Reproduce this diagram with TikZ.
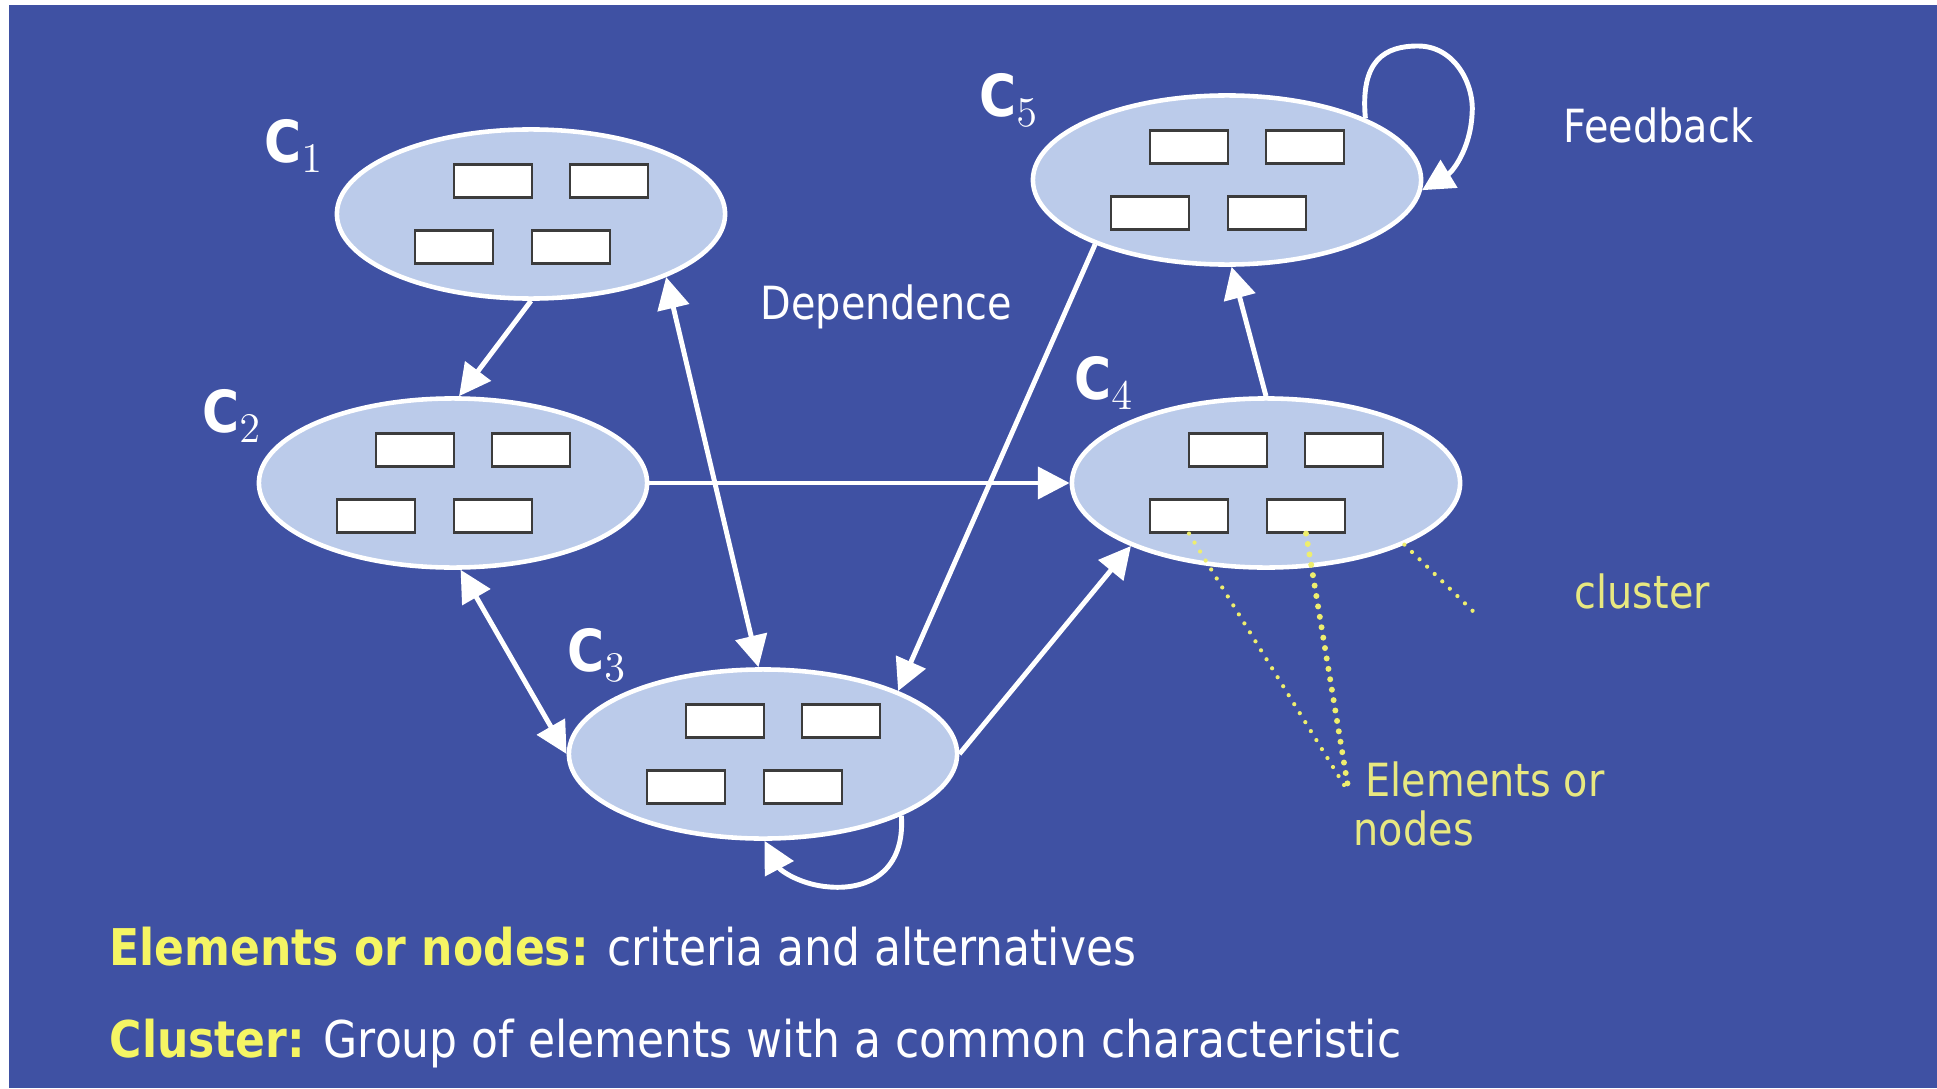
\documentclass[tikz,border=0pt]{standalone}
\usepackage{fontspec}
\newfontfamily\tahfont{DejaVu Sans}[FakeStretch=0.87]
\usetikzlibrary{shapes.geometric,arrows.meta}

\definecolor{slideblue}{RGB}{63,81,163}
\definecolor{clusterfill}{RGB}{187,203,234}
\definecolor{noteyellow}{RGB}{232,232,128}
\definecolor{legendyellow}{RGB}{245,245,100}
\definecolor{dotyellow}{RGB}{238,238,110}
\definecolor{elemgray}{RGB}{60,60,60}

\tikzset{
  >={Triangle[length=9pt,width=9pt]},
  cluster/.style={ellipse, draw=white, line width=1.3pt, fill=clusterfill,
    minimum width=3.88cm, minimum height=1.69cm, inner sep=0pt},
  elem/.style={rectangle, draw=elemgray, line width=0.6pt, fill=white,
    minimum width=0.78cm, minimum height=0.33cm, inner sep=0pt},
  clabel/.style={text=white, font=\tahfont\bfseries\fontsize{16.5}{19}\selectfont, inner sep=0pt},
  note/.style={font=\tahfont\fontsize{13}{14}\selectfont, inner sep=0pt},
  legend/.style={text=white, font=\tahfont\fontsize{14.4}{17}\selectfont, inner sep=0pt, anchor=base west},
  link/.style={draw=white, line width=1.4pt, ->},
  twoway/.style={link, <->},
  pointer/.style={draw=dotyellow, line width=1.2pt, line cap=round, dash pattern=on 0pt off 3pt}
}

\begin{document}
\begin{tikzpicture}[x=0.01cm, y=-0.01cm]
  % White page with the blue slide on it
  \useasboundingbox (0,0) rectangle (1937,1088);
  \fill[white] (0,0) rectangle (1937,1088);
  \fill[slideblue] (9,5) rectangle (1937,1088);

  % Clusters, each with four elements and its name
  \foreach \n/\x/\y/\lx/\ly in {1/531/214/294/146, 2/453/483/232/416, 3/763/754/597/655, 4/1266/483/1104/383, 5/1227/180/1009/100} {
    \node[cluster] (c\n) at (\x,\y) {};
    \node[elem] (e\n1) at (\x-38,\y-33) {};
    \node[elem] (e\n2) at (\x+78,\y-33) {};
    \node[elem] (e\n3) at (\x-77,\y+33) {};
    \node[elem] (e\n4) at (\x+40,\y+33) {};
    \node[clabel] (l\n) at (\lx,\ly) {C$_{\n}$};
  }

  % Dependence between clusters
  \draw[link] (c1.south) -- (c2.86);
  \draw[twoway] (c1.-25) -- (c3.93);
  \draw[link] (c2.east) -- (c4.west);
  \draw[twoway] (c2.-85) -- (c3.west);
  \draw[link] (c5.-154) -- (c3.25);
  \draw[link] (c3.east) -- (c4.-155);
  \draw[link] (c4.north) -- (c5.-87);

  % Feedback loops
  \draw[link] (c5.24) .. controls (1360,60) and (1385,46) .. (1418,46)
    .. controls (1455,46) and (1475,85) .. (1472,115)
    .. controls (1470,150) and (1452,172) .. (c5.-3);
  \draw[link] (c3.-24) .. controls (905,870) and (870,890) .. (830,887)
    .. controls (800,885) and (780,870) .. (c3.-89);

  % Dotted pointers to the notes
  \coordinate (ept) at (1349,793);
  \coordinate (cpt) at (1479,617);
  \draw[pointer] (e43.south) -- (ept);
  \draw[pointer, line width=1.7pt] (e44.south) -- (ept);
  \draw[pointer] (c4.-24) -- (cpt);

  % Notes
  \node[note, text=white, anchor=base west] (dep) at (760,319) {Dependence};
  \node[note, text=white, anchor=base west] (fb) at (1563,143) {Feedback};
  \node[note, text=noteyellow, anchor=base west] (cl) at (1574,608) {cluster};
  \node[note, text=noteyellow, anchor=west, align=left] (el) at (1353,804) {\hspace*{1.2mm}Elements or\\nodes};

  % Legend
  \node[legend] (leg1) at (109,965) {\textcolor{legendyellow}{\bfseries Elements or nodes:} criteria and alternatives};
  \node[legend] (leg2) at (109,1057) {\textcolor{legendyellow}{\bfseries Cluster:} Group of elements with a common characteristic};
\end{tikzpicture}
\end{document}
